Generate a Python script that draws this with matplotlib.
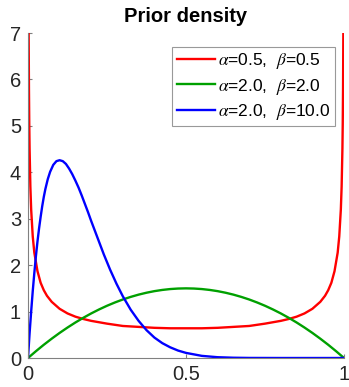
import matplotlib
matplotlib.use('Agg')
from matplotlib import pyplot as plt

plt.rcParams['font.family'] = ['Liberation Sans', 'DejaVu Sans']
plt.rcParams['mathtext.fontset'] = 'stix'

# densities
x_red = [0.001, 0.0015, 0.002, 0.003, 0.004, 0.005, 0.0075, 0.01, 0.015, 0.02, 0.03, 0.04, 0.05, 0.06,
         0.075, 0.1, 0.125, 0.15, 0.175, 0.2, 0.25, 0.3, 0.35, 0.4, 0.45, 0.5,
         0.55, 0.6, 0.65, 0.7, 0.75, 0.8, 0.825, 0.85, 0.875, 0.9, 0.925, 0.94, 0.95, 0.96,
         0.97, 0.98, 0.985, 0.99, 0.9925, 0.995, 0.996, 0.997, 0.998, 0.9985, 0.999]
y_red = [10.07, 8.23, 7.12, 5.82, 5.04, 4.51, 3.69, 3.20, 2.62, 2.27, 1.87, 1.62, 1.46, 1.34,
         1.21, 1.06, 0.96, 0.89, 0.84, 0.80, 0.74, 0.69, 0.67, 0.65, 0.64, 0.64,
         0.64, 0.65, 0.67, 0.69, 0.74, 0.80, 0.84, 0.89, 0.96, 1.06, 1.21, 1.34, 1.46, 1.62,
         1.87, 2.27, 2.62, 3.20, 3.69, 4.51, 5.04, 5.82, 7.12, 8.23, 10.07]

x_green = [0, 0.025, 0.05, 0.075, 0.1, 0.125, 0.15, 0.175, 0.2, 0.225, 0.25, 0.275, 0.3, 0.325, 0.35,
           0.375, 0.4, 0.425, 0.45, 0.475, 0.5, 0.525, 0.55, 0.575, 0.6, 0.625, 0.65, 0.675, 0.7,
           0.725, 0.75, 0.775, 0.8, 0.825, 0.85, 0.875, 0.9, 0.925, 0.95, 0.975, 1.0]
y_green = [0, 0.146, 0.285, 0.416, 0.54, 0.656, 0.765, 0.866, 0.96, 1.046, 1.125, 1.196, 1.26, 1.316, 1.365,
           1.406, 1.44, 1.466, 1.485, 1.496, 1.5, 1.496, 1.485, 1.466, 1.44, 1.406, 1.365, 1.316, 1.26,
           1.196, 1.125, 1.046, 0.96, 0.866, 0.765, 0.656, 0.54, 0.416, 0.285, 0.146, 0]

x_blue = [0, 0.005, 0.01, 0.015, 0.02, 0.025, 0.03, 0.035, 0.04, 0.045, 0.05, 0.055, 0.0625, 0.07, 0.08,
          0.09, 0.1, 0.11, 0.12, 0.13, 0.14, 0.15, 0.16, 0.17, 0.18, 0.19, 0.2, 0.22, 0.24, 0.26, 0.28,
          0.3, 0.325, 0.35, 0.375, 0.4, 0.425, 0.45, 0.475, 0.5, 0.55, 0.6, 0.65, 0.7, 0.8, 1.0]
y_blue = [0, 0.53, 1.00, 1.44, 1.83, 2.19, 2.51, 2.79, 3.04, 3.27, 3.47, 3.64, 3.85, 4.01, 4.16,
          4.24, 4.26, 4.24, 4.18, 4.08, 3.96, 3.82, 3.67, 3.50, 3.32, 3.14, 2.95, 2.59, 2.23, 1.90, 1.60,
          1.33, 1.04, 0.80, 0.60, 0.44, 0.32, 0.23, 0.16, 0.11, 0.046, 0.017, 0.006, 0.0015, 0.0, 0.0]

labels = [r'$\alpha$=0.5,  $\beta$=0.5', r'$\alpha$=2.0,  $\beta$=2.0', r'$\alpha$=2.0,  $\beta$=10.0']

fig = plt.figure(figsize=(3.49, 3.87), dpi=100)
ax = fig.add_axes([28 / 349, 29 / 387, 316 / 349, 325 / 387])
ax.plot(x_red, y_red, color='#ff0000', lw=1.7, label=labels[0])
ax.plot(x_green, y_green, color='#00a000', lw=1.7, label=labels[1])
ax.plot(x_blue, y_blue, color='#0000ff', lw=1.7, label=labels[2])

ax.set_xlim(0, 1)
ax.set_ylim(0, 7)
ax.set_xticks([0, 0.5, 1])
ax.set_xticklabels(['0', '0.5', '1'])
ax.set_yticks(range(8))
for s in ['top', 'right']:
    ax.spines[s].set_visible(False)
for s in ['left', 'bottom']:
    ax.spines[s].set_color('#808080')
    ax.spines[s].set_linewidth(0.8)
ax.tick_params(direction='in', length=3, color='#808080', labelsize=14.5, labelcolor='#262626', pad=5)
ax.set_title('Prior density', fontsize=14.5, fontweight='bold', pad=8)

leg = ax.legend(loc='upper right', bbox_to_anchor=(0.9715, 0.958), fontsize=12.5, frameon=True, fancybox=False,
                handlelength=2.2, handletextpad=0.2, borderpad=0.25, labelspacing=0.32, borderaxespad=0)
leg.get_frame().set_edgecolor('#808080')
leg.get_frame().set_linewidth(0.8)

fig.savefig('out.png', dpi=100)
